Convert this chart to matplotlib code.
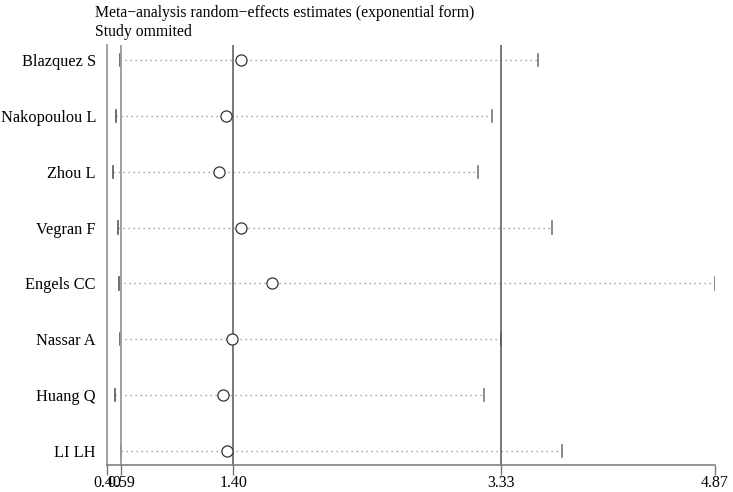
import matplotlib
matplotlib.use("Agg")
import matplotlib.pyplot as plt

# studies (top to bottom) and the pooled estimate with that study left out
studies = ["Blazquez S", "Nakopoulou L", "Zhou L", "Vegran F",
           "Engels CC", "Nassar A", "Huang Q", "LI LH"]
estimate = [1.453, 1.345, 1.299, 1.453, 1.681, 1.393, 1.324, 1.352]
lower = [0.585, 0.556, 0.534, 0.570, 0.577, 0.585, 0.549, 0.590]
upper = [3.598, 3.261, 3.160, 3.692, 4.870, 3.331, 3.204, 3.770]

# overall lower CI, estimate, upper CI
ref_lines = [0.59, 1.40, 3.33]

# x axis ticks as drawn in the original
tick_pos = [0.49, 0.59, 1.40, 3.33, 4.87]
tick_labels = ["0.40", "0.59", "1.40", "3.33", "4.87"]

plt.rcParams["font.family"] = ["Liberation Serif", "DejaVu Serif"]

fig = plt.figure(figsize=(7.33, 4.92), dpi=100)
ax = fig.add_axes([0.146, 0.054, 0.8295, 0.8545])

rows = list(range(1, len(studies) + 1))

for y, lo, hi in zip(rows, lower, upper):
    ax.plot([lo, hi], [y, y], linestyle=(0, (1, 3)), color="#888888", lw=0.9)
    ax.plot([lo, lo], [y - 0.11, y + 0.11], color="#555555", lw=1.2)
    ax.plot([hi, hi], [y - 0.11, y + 0.11], color="#777777", lw=1.2)

ax.plot(estimate, rows, "o", markersize=8, markerfacecolor="white",
        markeredgecolor="#333333", markeredgewidth=0.9, linestyle="none", zorder=3)

ax.axvline(ref_lines[0], color="#999999", lw=1.3)
ax.axvline(ref_lines[1], color="#555555", lw=1.1)
ax.axvline(ref_lines[2], color="#555555", lw=1.1)

ax.set_xlim(tick_pos[0], tick_pos[-1])
ax.set_ylim(8.26, 0.73)
ax.set_xticks(tick_pos)
ax.set_xticklabels(tick_labels, fontsize=11.5)
ax.set_yticks(rows)
ax.set_yticklabels(studies, fontsize=11.8)
ax.tick_params(axis="y", length=0, pad=8)
ax.tick_params(axis="x", length=7, width=1, color="#777777", pad=0)

for side in ["top", "right"]:
    ax.spines[side].set_visible(False)
ax.spines["left"].set_color("#999999")
ax.spines["left"].set_linewidth(1.3)
ax.spines["bottom"].set_color("#777777")
ax.spines["bottom"].set_linewidth(1.1)

fig.text(0.129, 0.99, "Meta\u2212analysis random\u2212effects estimates (exponential form)",
         fontsize=11.3, va="top")
fig.text(0.129, 0.952, "Study ommited", fontsize=11.3, va="top")

fig.savefig("out.png", dpi=100)
